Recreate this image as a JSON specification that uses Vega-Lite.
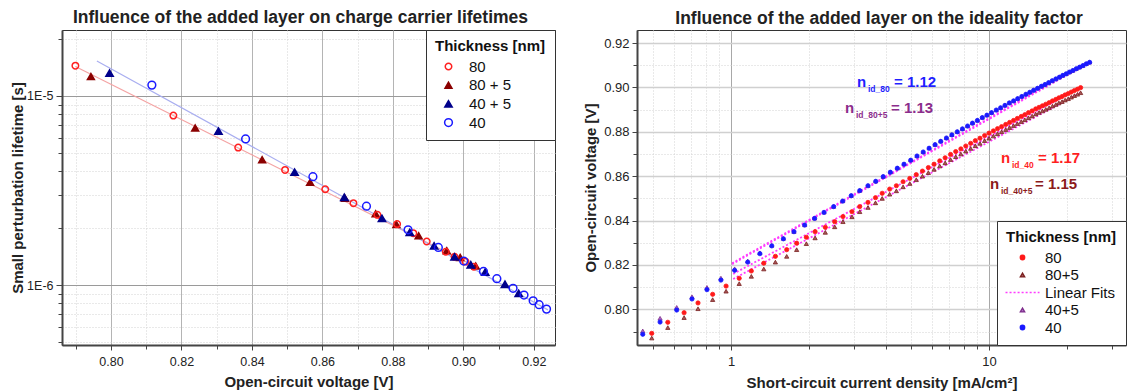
{
  "$schema": "https://vega.github.io/schema/vega-lite/v6.json",
  "background": "white",
  "padding": {"left": 10, "top": 8, "right": 0, "bottom": 0},
  "spacing": 82,
  "bounds": "flush",
  "resolve": {"scale": {"color": "independent", "fill": "independent", "stroke": "independent", "shape": "independent", "size": "independent"}},
  "config": {
    "font": "Liberation Sans",
    "view": {"stroke": "#333", "strokeWidth": 1},
    "axis": {"labelFont": "Liberation Sans", "labelFontSize": 12.5, "labelColor": "#222", "titleFont": "Liberation Sans", "titleFontSize": 15, "titleFontWeight": "bold", "titleColor": "#222", "domainColor": "#444", "domainWidth": 2, "tickColor": "#444", "tickSize": 5, "labelPadding": 5, "titlePadding": 7},
    "legend": {"titleFont": "Liberation Sans", "labelFont": "Liberation Sans", "titleFontSize": 15, "titleFontWeight": "bold", "labelFontSize": 15, "titleColor": "#111", "labelColor": "#111"},
    "title": {"font": "Liberation Sans", "fontSize": 17.5, "fontWeight": "bold", "color": "#222"}
  },
  "datasets": {
    "ptsL": [
      {"s": "80 + 5", "V": 0.7943, "tau": 1.265e-5}, {"s": "80 + 5", "V": 0.8239, "tau": 6.77e-6}, {"s": "80 + 5", "V": 0.8429, "tau": 4.60e-6}, {"s": "80 + 5", "V": 0.8565, "tau": 3.49e-6}, {"s": "80 + 5", "V": 0.8664, "tau": 2.88e-6}, {"s": "80 + 5", "V": 0.8751, "tau": 2.38e-6}, {"s": "80 + 5", "V": 0.8810, "tau": 2.09e-6}, {"s": "80 + 5", "V": 0.8873, "tau": 1.82e-6}, {"s": "80 + 5", "V": 0.8953, "tau": 1.52e-6}, {"s": "80 + 5", "V": 0.8991, "tau": 1.40e-6}, {"s": "80 + 5", "V": 0.9035, "tau": 1.26e-6},
      {"s": "80", "V": 0.7899, "tau": 1.445e-5}, {"s": "80", "V": 0.8177, "tau": 7.87e-6}, {"s": "80", "V": 0.8361, "tau": 5.33e-6}, {"s": "80", "V": 0.8494, "tau": 4.06e-6}, {"s": "80", "V": 0.8608, "tau": 3.21e-6}, {"s": "80", "V": 0.8688, "tau": 2.71e-6}, {"s": "80", "V": 0.8756, "tau": 2.35e-6}, {"s": "80", "V": 0.8812, "tau": 2.10e-6}, {"s": "80", "V": 0.8858, "tau": 1.88e-6}, {"s": "80", "V": 0.8896, "tau": 1.70e-6}, {"s": "80", "V": 0.8950, "tau": 1.50e-6}, {"s": "80", "V": 0.8975, "tau": 1.41e-6}, {"s": "80", "V": 0.9006, "tau": 1.33e-6}, {"s": "80", "V": 0.9030, "tau": 1.25e-6},
      {"s": "40 + 5", "V": 0.7996, "tau": 1.32e-5}, {"s": "40 + 5", "V": 0.8305, "tau": 6.51e-6}, {"s": "40 + 5", "V": 0.8521, "tau": 3.95e-6}, {"s": "40 + 5", "V": 0.8662, "tau": 2.91e-6}, {"s": "40 + 5", "V": 0.8769, "tau": 2.25e-6}, {"s": "40 + 5", "V": 0.8848, "tau": 1.90e-6}, {"s": "40 + 5", "V": 0.8917, "tau": 1.61e-6}, {"s": "40 + 5", "V": 0.8975, "tau": 1.41e-6}, {"s": "40 + 5", "V": 0.9021, "tau": 1.28e-6}, {"s": "40 + 5", "V": 0.9062, "tau": 1.17e-6}, {"s": "40 + 5", "V": 0.9118, "tau": 1.01e-6}, {"s": "40 + 5", "V": 0.9157, "tau": 9.04e-7},
      {"s": "40", "V": 0.8116, "tau": 1.14e-5}, {"s": "40", "V": 0.8382, "tau": 5.92e-6}, {"s": "40", "V": 0.8573, "tau": 3.74e-6}, {"s": "40", "V": 0.8725, "tau": 2.61e-6}, {"s": "40", "V": 0.8843, "tau": 1.96e-6}, {"s": "40", "V": 0.8929, "tau": 1.58e-6}, {"s": "40", "V": 0.9001, "tau": 1.34e-6}, {"s": "40", "V": 0.9057, "tau": 1.18e-6}, {"s": "40", "V": 0.9095, "tau": 1.08e-6}, {"s": "40", "V": 0.9141, "tau": 9.61e-7}, {"s": "40", "V": 0.9172, "tau": 8.85e-7}, {"s": "40", "V": 0.9198, "tau": 8.26e-7}, {"s": "40", "V": 0.9215, "tau": 7.87e-7}, {"s": "40", "V": 0.9236, "tau": 7.46e-7}
    ],
    "fitL": [
      {"f": "80", "V": 0.7899, "tau": 1.43e-5}, {"f": "80", "V": 0.905, "tau": 1.21e-6},
      {"f": "40", "V": 0.796, "tau": 1.53e-5}, {"f": "40", "V": 0.924, "tau": 7.39e-7}
    ],
    "ptsR": [
      {"s": "80", "J": 0.493, "V": 0.7892}, {"s": "80", "J": 0.569, "V": 0.7942}, {"s": "80", "J": 0.658, "V": 0.7985}, {"s": "80", "J": 0.745, "V": 0.8029}, {"s": "80", "J": 0.849, "V": 0.8068}, {"s": "80", "J": 0.957, "V": 0.8105}, {"s": "80", "J": 1.076, "V": 0.8140}, {"s": "80", "J": 1.199, "V": 0.8173}, {"s": "80", "J": 1.340, "V": 0.8208}, {"s": "80", "J": 1.486, "V": 0.8239}, {"s": "80", "J": 1.644, "V": 0.8269}, {"s": "80", "J": 1.797, "V": 0.8298}, {"s": "80", "J": 1.959, "V": 0.8325}, {"s": "80", "J": 2.118, "V": 0.8350}, {"s": "80", "J": 2.320, "V": 0.8370}, {"s": "80", "J": 2.523, "V": 0.8395}, {"s": "80", "J": 2.716, "V": 0.8418}, {"s": "80", "J": 2.944, "V": 0.8440}, {"s": "80", "J": 3.155, "V": 0.8463}, {"s": "80", "J": 3.396, "V": 0.8482}, {"s": "80", "J": 3.631, "V": 0.8503}, {"s": "80", "J": 3.855, "V": 0.8523}, {"s": "80", "J": 4.121, "V": 0.8542}, {"s": "80", "J": 4.375, "V": 0.8557}, {"s": "80", "J": 4.645, "V": 0.8575}, {"s": "80", "J": 4.932, "V": 0.8590}, {"s": "80", "J": 5.224, "V": 0.8607}, {"s": "80", "J": 5.521, "V": 0.8623}, {"s": "80", "J": 5.821, "V": 0.8639}, {"s": "80", "J": 6.124, "V": 0.8654}, {"s": "80", "J": 6.442, "V": 0.8669}, {"s": "80", "J": 6.761, "V": 0.8683}, {"s": "80", "J": 7.096, "V": 0.8698}, {"s": "80", "J": 7.430, "V": 0.8711}, {"s": "80", "J": 7.780, "V": 0.8723}, {"s": "80", "J": 8.128, "V": 0.8736}, {"s": "80", "J": 8.492, "V": 0.8748}, {"s": "80", "J": 8.851, "V": 0.8760}, {"s": "80", "J": 9.226, "V": 0.8771}, {"s": "80", "J": 9.616, "V": 0.8783}, {"s": "80", "J": 10.00, "V": 0.8794}, {"s": "80", "J": 10.40, "V": 0.8804}, {"s": "80", "J": 10.79, "V": 0.8814}, {"s": "80", "J": 11.19, "V": 0.8823}, {"s": "80", "J": 11.61, "V": 0.8833}, {"s": "80", "J": 12.02, "V": 0.8842}, {"s": "80", "J": 12.45, "V": 0.8851}, {"s": "80", "J": 12.88, "V": 0.8860}, {"s": "80", "J": 13.34, "V": 0.8869}, {"s": "80", "J": 13.77, "V": 0.8877}, {"s": "80", "J": 14.22, "V": 0.8886}, {"s": "80", "J": 14.69, "V": 0.8894}, {"s": "80", "J": 15.17, "V": 0.8903}, {"s": "80", "J": 15.63, "V": 0.8910}, {"s": "80", "J": 16.11, "V": 0.8917}, {"s": "80", "J": 16.60, "V": 0.8924}, {"s": "80", "J": 17.10, "V": 0.8931}, {"s": "80", "J": 17.62, "V": 0.8939}, {"s": "80", "J": 18.16, "V": 0.8946}, {"s": "80", "J": 18.66, "V": 0.8953}, {"s": "80", "J": 19.19, "V": 0.8959}, {"s": "80", "J": 19.72, "V": 0.8966}, {"s": "80", "J": 20.28, "V": 0.8972}, {"s": "80", "J": 20.84, "V": 0.8979}, {"s": "80", "J": 21.43, "V": 0.8986}, {"s": "80", "J": 22.03, "V": 0.8992}, {"s": "80", "J": 22.65, "V": 0.8999},
      {"s": "80+5", "J": 0.493, "V": 0.7871}, {"s": "80+5", "J": 0.569, "V": 0.7918}, {"s": "80+5", "J": 0.658, "V": 0.7963}, {"s": "80+5", "J": 0.745, "V": 0.8003}, {"s": "80+5", "J": 0.849, "V": 0.8044}, {"s": "80+5", "J": 0.957, "V": 0.8082}, {"s": "80+5", "J": 1.076, "V": 0.8116}, {"s": "80+5", "J": 1.199, "V": 0.8149}, {"s": "80+5", "J": 1.340, "V": 0.8182}, {"s": "80+5", "J": 1.486, "V": 0.8213}, {"s": "80+5", "J": 1.644, "V": 0.8239}, {"s": "80+5", "J": 1.797, "V": 0.8269}, {"s": "80+5", "J": 1.959, "V": 0.8296}, {"s": "80+5", "J": 2.118, "V": 0.8322}, {"s": "80+5", "J": 2.320, "V": 0.8347}, {"s": "80+5", "J": 2.523, "V": 0.8372}, {"s": "80+5", "J": 2.716, "V": 0.8395}, {"s": "80+5", "J": 2.944, "V": 0.8417}, {"s": "80+5", "J": 3.155, "V": 0.8440}, {"s": "80+5", "J": 3.396, "V": 0.8459}, {"s": "80+5", "J": 3.631, "V": 0.8480}, {"s": "80+5", "J": 3.855, "V": 0.8500}, {"s": "80+5", "J": 4.121, "V": 0.8519}, {"s": "80+5", "J": 4.375, "V": 0.8534}, {"s": "80+5", "J": 4.645, "V": 0.8552}, {"s": "80+5", "J": 4.932, "V": 0.8567}, {"s": "80+5", "J": 5.224, "V": 0.8584}, {"s": "80+5", "J": 5.521, "V": 0.8600}, {"s": "80+5", "J": 5.821, "V": 0.8616}, {"s": "80+5", "J": 6.124, "V": 0.8631}, {"s": "80+5", "J": 6.442, "V": 0.8646}, {"s": "80+5", "J": 6.761, "V": 0.8660}, {"s": "80+5", "J": 7.096, "V": 0.8675}, {"s": "80+5", "J": 7.430, "V": 0.8688}, {"s": "80+5", "J": 7.780, "V": 0.8700}, {"s": "80+5", "J": 8.128, "V": 0.8713}, {"s": "80+5", "J": 8.492, "V": 0.8725}, {"s": "80+5", "J": 8.851, "V": 0.8737}, {"s": "80+5", "J": 9.226, "V": 0.8748}, {"s": "80+5", "J": 9.616, "V": 0.8760}, {"s": "80+5", "J": 10.00, "V": 0.8771}, {"s": "80+5", "J": 10.40, "V": 0.8781}, {"s": "80+5", "J": 10.79, "V": 0.8791}, {"s": "80+5", "J": 11.19, "V": 0.8800}, {"s": "80+5", "J": 11.61, "V": 0.8810}, {"s": "80+5", "J": 12.02, "V": 0.8819}, {"s": "80+5", "J": 12.45, "V": 0.8828}, {"s": "80+5", "J": 12.88, "V": 0.8837}, {"s": "80+5", "J": 13.34, "V": 0.8846}, {"s": "80+5", "J": 13.77, "V": 0.8854}, {"s": "80+5", "J": 14.22, "V": 0.8863}, {"s": "80+5", "J": 14.69, "V": 0.8871}, {"s": "80+5", "J": 15.17, "V": 0.8880}, {"s": "80+5", "J": 15.63, "V": 0.8887}, {"s": "80+5", "J": 16.11, "V": 0.8894}, {"s": "80+5", "J": 16.60, "V": 0.8901}, {"s": "80+5", "J": 17.10, "V": 0.8908}, {"s": "80+5", "J": 17.62, "V": 0.8916}, {"s": "80+5", "J": 18.16, "V": 0.8923}, {"s": "80+5", "J": 18.66, "V": 0.8930}, {"s": "80+5", "J": 19.19, "V": 0.8936}, {"s": "80+5", "J": 19.72, "V": 0.8943}, {"s": "80+5", "J": 20.28, "V": 0.8949}, {"s": "80+5", "J": 20.84, "V": 0.8956}, {"s": "80+5", "J": 21.43, "V": 0.8963}, {"s": "80+5", "J": 22.03, "V": 0.8969}, {"s": "80+5", "J": 22.65, "V": 0.8976},
      {"s": "40+5", "J": 0.455, "V": 0.7903}, {"s": "40+5", "J": 0.531, "V": 0.7960}, {"s": "40+5", "J": 0.616, "V": 0.8009}, {"s": "40+5", "J": 0.706, "V": 0.8057}, {"s": "40+5", "J": 0.807, "V": 0.8099}, {"s": "40+5", "J": 0.914, "V": 0.8141}, {"s": "40+5", "J": 1.033, "V": 0.8183}, {"s": "40+5", "J": 1.161, "V": 0.8218}, {"s": "40+5", "J": 1.294, "V": 0.8255}, {"s": "40+5", "J": 1.439, "V": 0.8289}, {"s": "40+5", "J": 1.596, "V": 0.8320}, {"s": "40+5", "J": 1.754, "V": 0.8351}, {"s": "40+5", "J": 1.930, "V": 0.8381}, {"s": "40+5", "J": 2.109, "V": 0.8411}, {"s": "40+5", "J": 2.294, "V": 0.8438}, {"s": "40+5", "J": 2.500, "V": 0.8464}, {"s": "40+5", "J": 2.710, "V": 0.8489}, {"s": "40+5", "J": 2.924, "V": 0.8513}, {"s": "40+5", "J": 3.155, "V": 0.8536}, {"s": "40+5", "J": 3.396, "V": 0.8558}, {"s": "40+5", "J": 3.639, "V": 0.8578}, {"s": "40+5", "J": 3.890, "V": 0.8599}, {"s": "40+5", "J": 4.146, "V": 0.8619}, {"s": "40+5", "J": 4.412, "V": 0.8637}, {"s": "40+5", "J": 4.684, "V": 0.8655}, {"s": "40+5", "J": 4.972, "V": 0.8673}, {"s": "40+5", "J": 5.260, "V": 0.8692}, {"s": "40+5", "J": 5.559, "V": 0.8710}, {"s": "40+5", "J": 5.861, "V": 0.8727}, {"s": "40+5", "J": 6.180, "V": 0.8743}, {"s": "40+5", "J": 6.501, "V": 0.8758}, {"s": "40+5", "J": 6.839, "V": 0.8773}, {"s": "40+5", "J": 7.178, "V": 0.8787}, {"s": "40+5", "J": 7.534, "V": 0.8801}, {"s": "40+5", "J": 7.889, "V": 0.8814}, {"s": "40+5", "J": 8.260, "V": 0.8827}, {"s": "40+5", "J": 8.630, "V": 0.8840}, {"s": "40+5", "J": 9.016, "V": 0.8852}, {"s": "40+5", "J": 9.419, "V": 0.8865}, {"s": "40+5", "J": 9.817, "V": 0.8876}, {"s": "40+5", "J": 10.23, "V": 0.8887}, {"s": "40+5", "J": 10.67, "V": 0.8899}, {"s": "40+5", "J": 11.09, "V": 0.8909}, {"s": "40+5", "J": 11.53, "V": 0.8920}, {"s": "40+5", "J": 11.99, "V": 0.8931}, {"s": "40+5", "J": 12.45, "V": 0.8940}, {"s": "40+5", "J": 12.91, "V": 0.8950}, {"s": "40+5", "J": 13.40, "V": 0.8960}, {"s": "40+5", "J": 13.90, "V": 0.8970}, {"s": "40+5", "J": 14.39, "V": 0.8979}, {"s": "40+5", "J": 14.89, "V": 0.8988}, {"s": "40+5", "J": 15.42, "V": 0.8997}, {"s": "40+5", "J": 15.96, "V": 0.9006}, {"s": "40+5", "J": 16.48, "V": 0.9014}, {"s": "40+5", "J": 17.02, "V": 0.9022}, {"s": "40+5", "J": 17.58, "V": 0.9031}, {"s": "40+5", "J": 18.16, "V": 0.9039}, {"s": "40+5", "J": 18.75, "V": 0.9047}, {"s": "40+5", "J": 19.32, "V": 0.9055}, {"s": "40+5", "J": 19.91, "V": 0.9062}, {"s": "40+5", "J": 20.51, "V": 0.9070}, {"s": "40+5", "J": 21.13, "V": 0.9077}, {"s": "40+5", "J": 21.78, "V": 0.9085}, {"s": "40+5", "J": 22.44, "V": 0.9092}, {"s": "40+5", "J": 23.12, "V": 0.9099}, {"s": "40+5", "J": 23.82, "V": 0.9107}, {"s": "40+5", "J": 24.55, "V": 0.9114},
      {"s": "40", "J": 0.455, "V": 0.7888}, {"s": "40", "J": 0.531, "V": 0.7943}, {"s": "40", "J": 0.616, "V": 0.7997}, {"s": "40", "J": 0.706, "V": 0.8047}, {"s": "40", "J": 0.807, "V": 0.8089}, {"s": "40", "J": 0.914, "V": 0.8132}, {"s": "40", "J": 1.033, "V": 0.8176}, {"s": "40", "J": 1.161, "V": 0.8213}, {"s": "40", "J": 1.294, "V": 0.8251}, {"s": "40", "J": 1.439, "V": 0.8286}, {"s": "40", "J": 1.596, "V": 0.8318}, {"s": "40", "J": 1.754, "V": 0.8350}, {"s": "40", "J": 1.930, "V": 0.8380}, {"s": "40", "J": 2.109, "V": 0.8410}, {"s": "40", "J": 2.294, "V": 0.8437}, {"s": "40", "J": 2.500, "V": 0.8463}, {"s": "40", "J": 2.710, "V": 0.8488}, {"s": "40", "J": 2.924, "V": 0.8512}, {"s": "40", "J": 3.155, "V": 0.8535}, {"s": "40", "J": 3.396, "V": 0.8557}, {"s": "40", "J": 3.639, "V": 0.8577}, {"s": "40", "J": 3.890, "V": 0.8598}, {"s": "40", "J": 4.146, "V": 0.8618}, {"s": "40", "J": 4.412, "V": 0.8636}, {"s": "40", "J": 4.684, "V": 0.8654}, {"s": "40", "J": 4.972, "V": 0.8672}, {"s": "40", "J": 5.260, "V": 0.8691}, {"s": "40", "J": 5.559, "V": 0.8709}, {"s": "40", "J": 5.861, "V": 0.8726}, {"s": "40", "J": 6.180, "V": 0.8742}, {"s": "40", "J": 6.501, "V": 0.8757}, {"s": "40", "J": 6.839, "V": 0.8772}, {"s": "40", "J": 7.178, "V": 0.8786}, {"s": "40", "J": 7.534, "V": 0.8800}, {"s": "40", "J": 7.889, "V": 0.8813}, {"s": "40", "J": 8.260, "V": 0.8826}, {"s": "40", "J": 8.630, "V": 0.8839}, {"s": "40", "J": 9.016, "V": 0.8851}, {"s": "40", "J": 9.419, "V": 0.8864}, {"s": "40", "J": 9.817, "V": 0.8875}, {"s": "40", "J": 10.23, "V": 0.8886}, {"s": "40", "J": 10.67, "V": 0.8898}, {"s": "40", "J": 11.09, "V": 0.8908}, {"s": "40", "J": 11.53, "V": 0.8919}, {"s": "40", "J": 11.99, "V": 0.8930}, {"s": "40", "J": 12.45, "V": 0.8939}, {"s": "40", "J": 12.91, "V": 0.8949}, {"s": "40", "J": 13.40, "V": 0.8959}, {"s": "40", "J": 13.90, "V": 0.8969}, {"s": "40", "J": 14.39, "V": 0.8978}, {"s": "40", "J": 14.89, "V": 0.8987}, {"s": "40", "J": 15.42, "V": 0.8996}, {"s": "40", "J": 15.96, "V": 0.9005}, {"s": "40", "J": 16.48, "V": 0.9013}, {"s": "40", "J": 17.02, "V": 0.9021}, {"s": "40", "J": 17.58, "V": 0.9030}, {"s": "40", "J": 18.16, "V": 0.9038}, {"s": "40", "J": 18.75, "V": 0.9046}, {"s": "40", "J": 19.32, "V": 0.9054}, {"s": "40", "J": 19.91, "V": 0.9061}, {"s": "40", "J": 20.51, "V": 0.9069}, {"s": "40", "J": 21.13, "V": 0.9076}, {"s": "40", "J": 21.78, "V": 0.9084}, {"s": "40", "J": 22.44, "V": 0.9091}, {"s": "40", "J": 23.12, "V": 0.9098}, {"s": "40", "J": 23.82, "V": 0.9106}, {"s": "40", "J": 24.55, "V": 0.9113}
    ],
    "fitR": [
      {"f": "80", "J": 1.02, "V": 0.8160}, {"f": "80", "J": 22.65, "V": 0.9000},
      {"f": "80+5", "J": 1.02, "V": 0.8137}, {"f": "80+5", "J": 22.65, "V": 0.8976},
      {"f": "40+5", "J": 1.01, "V": 0.8208}, {"f": "40+5", "J": 24.55, "V": 0.9117},
      {"f": "40", "J": 1.01, "V": 0.8204}, {"f": "40", "J": 24.55, "V": 0.9113}
    ],
    "ann": [
      {"g": "80", "n": "n", "sub": "id_80", "eq": "= 1.12", "Jn": 3.078, "Jeq": 4.283, "V": 0.9002},
      {"g": "80+5", "n": "n", "sub": "id_80+5", "eq": "= 1.13", "Jn": 2.766, "Jeq": 4.171, "V": 0.8885},
      {"g": "40", "n": "n", "sub": "id_40", "eq": "= 1.17", "Jn": 11.13, "Jeq": 15.49, "V": 0.8660},
      {"g": "40+5", "n": "n", "sub": "id_40+5", "eq": "= 1.15", "Jn": 10.09, "Jeq": 15.08, "V": 0.8542}
    ]
  },
  "hconcat": [
    {
      "width": 493,
      "height": 315,
      "title": {"text": "Influence of the added layer on charge carrier lifetimes", "anchor": "middle", "offset": 3, "dx": -8},
      "resolve": {"axis": {"x": "independent", "y": "independent"}},
      "layer": [
        {
          "data": {"name": "fitL"},
          "mark": {"type": "line", "strokeWidth": 1.2},
          "encoding": {
            "x": {"field": "V", "type": "quantitative", "scale": {"domain": [0.7861, 0.926], "nice": false, "zero": false},
                  "axis": {"orient": "bottom", "values": [0.79, 0.81, 0.83, 0.85, 0.87, 0.89, 0.91], "labels": false, "domain": false, "title": null, "grid": true, "gridDash": [1, 2], "gridColor": "#d2d2d2", "tickSize": 4}},
            "y": {"field": "tau", "type": "quantitative", "scale": {"type": "log", "domain": [4.82e-7, 2.23e-5], "nice": false},
                  "axis": {"orient": "left", "values": [5e-7, 6e-7, 7e-7, 8e-7, 9e-7, 2e-6, 3e-6, 4e-6, 5e-6, 6e-6, 7e-6, 8e-6, 9e-6, 2e-5], "labels": false, "domain": false, "title": null, "grid": true, "gridDash": [1, 2], "gridColor": "#d2d2d2", "tickSize": 4}},
            "color": {"field": "f", "type": "nominal", "scale": {"domain": ["80", "40"], "range": ["#f4a3a3", "#a9aef0"]}, "legend": null}
          }
        },
        {
          "data": {"name": "ptsL"},
          "mark": {"type": "point", "filled": true, "strokeWidth": 1.5, "opacity": 1},
          "encoding": {
            "x": {"field": "V", "type": "quantitative", "scale": {"domain": [0.7861, 0.926], "nice": false, "zero": false},
                  "axis": {"orient": "bottom", "values": [0.8, 0.82, 0.84, 0.86, 0.88, 0.9, 0.92], "format": ".2f", "title": "Open-circuit voltage [V]", "grid": true, "gridColor": "#b4b4b4"}},
            "y": {"field": "tau", "type": "quantitative", "scale": {"type": "log", "domain": [4.82e-7, 2.23e-5], "nice": false},
                  "axis": {"orient": "left", "values": [1e-6, 1e-5], "labelExpr": "'1E' + round(log(datum.value) / LN10)", "labelPadding": 3, "titlePadding": 1, "title": "Small perturbation lifetime [s]", "grid": true, "gridColor": "#9a9a9a", "tickSize": 6}},
            "stroke": {"field": "s", "type": "nominal", "title": "Thickness [nm]",
                       "scale": {"domain": ["80", "80 + 5", "40 + 5", "40"], "range": ["#ff2020", "#8b0000", "#00008b", "#1a1aff"]},
                       "legend": {"orient": "top-right", "offset": 0, "padding": 9, "strokeColor": "#333", "fillColor": "white", "rowPadding": 2.7, "titlePadding": 5, "symbolOffset": 6, "labelOffset": 13}},
            "fill": {"field": "s", "type": "nominal", "title": "Thickness [nm]",
                     "scale": {"domain": ["80", "80 + 5", "40 + 5", "40"], "range": ["transparent", "#8b0000", "#00008b", "transparent"]},
                     "legend": {"orient": "top-right", "offset": 0, "padding": 9, "strokeColor": "#333", "fillColor": "white", "rowPadding": 2.7, "titlePadding": 5, "symbolOffset": 6, "labelOffset": 13}},
            "shape": {"field": "s", "type": "nominal", "title": "Thickness [nm]",
                      "scale": {"domain": ["80", "80 + 5", "40 + 5", "40"], "range": ["circle", "triangle-up", "triangle-up", "circle"]},
                      "legend": {"orient": "top-right", "offset": 0, "padding": 9, "strokeColor": "#333", "fillColor": "white", "rowPadding": 2.7, "titlePadding": 5, "symbolOffset": 6, "labelOffset": 13}},
            "size": {"field": "s", "type": "nominal", "title": "Thickness [nm]",
                     "scale": {"domain": ["80", "80 + 5", "40 + 5", "40"], "range": [42, 60, 60, 42]},
                     "legend": {"orient": "top-right", "offset": 0, "padding": 9, "strokeColor": "#333", "fillColor": "white", "rowPadding": 2.7, "titlePadding": 5, "symbolOffset": 6, "labelOffset": 13}}
          }
        }
      ]
    },
    {
      "width": 489,
      "height": 315,
      "title": {"text": "Influence of the added layer on the ideality factor", "anchor": "middle", "offset": 3, "dx": -2.5},
      "resolve": {"axis": {"x": "independent", "y": "independent"}},
      "layer": [
        {
          "data": {"name": "fitR"},
          "mark": {"type": "line", "color": "#ff3cff", "strokeDash": [2, 2], "strokeWidth": 1.8},
          "encoding": {
            "x": {"field": "J", "type": "quantitative", "scale": {"type": "log", "domain": [0.4322, 33.96], "nice": false},
                  "axis": {"orient": "bottom", "values": [0.5, 0.6, 0.7, 0.8, 0.9, 2, 3, 4, 5, 6, 7, 8, 9, 20, 30], "labels": false, "domain": false, "title": null, "grid": true, "gridDash": [1, 2], "gridColor": "#d2d2d2", "tickSize": 4}},
            "y": {"field": "V", "type": "quantitative", "scale": {"domain": [0.78396, 0.92586], "nice": false, "zero": false},
                  "axis": {"orient": "left", "values": [0.79, 0.81, 0.83, 0.85, 0.87, 0.89, 0.91], "labels": false, "domain": false, "title": null, "grid": true, "gridDash": [1, 2], "gridColor": "#d2d2d2", "tickSize": 4}},
            "detail": {"field": "f", "type": "nominal"}
          }
        },
        {
          "data": {"name": "ptsR"},
          "mark": {"type": "point", "filled": true, "size": 18, "strokeWidth": 0.8, "opacity": 1},
          "encoding": {
            "x": {"field": "J", "type": "quantitative", "scale": {"type": "log", "domain": [0.4322, 33.96], "nice": false},
                  "axis": {"orient": "bottom", "values": [1, 10], "format": "d", "labelFontSize": 13, "title": "Short-circuit current density [mA/cm²]", "grid": true, "gridColor": "#a8a8a8"}},
            "y": {"field": "V", "type": "quantitative", "scale": {"domain": [0.78396, 0.92586], "nice": false, "zero": false},
                  "axis": {"orient": "left", "values": [0.8, 0.82, 0.84, 0.86, 0.88, 0.9, 0.92], "format": ".2f", "labelFontSize": 13, "labelPadding": 3, "titlePadding": 5, "title": "Open-circuit voltage [V]", "grid": true, "gridColor": "#d0d0d0", "gridWidth": 1.6}},
            "color": {"field": "s", "type": "nominal", "title": "Thickness [nm]",
                      "scale": {"domain": ["80", "80+5", "Linear Fits", "40+5", "40"], "range": ["#ff1a1a", "#a85858", "#ff3cff", "#b070c8", "#1a1aff"]},
                      "legend": {"orient": "bottom-right", "offset": 0, "padding": 9, "strokeColor": "#333", "fillColor": "white", "rowPadding": 1.5, "titlePadding": 5, "symbolSize": 20, "symbolStrokeWidth": 1.3, "symbolOffset": 9, "labelOffset": 15}},
            "stroke": {"field": "s", "type": "nominal", "title": "Thickness [nm]",
                       "scale": {"domain": ["80", "80+5", "Linear Fits", "40+5", "40"], "range": ["#ff1a1a", "#7a1f1f", "#ff3cff", "#7d2d8a", "#1a1aff"]},
                       "legend": {"orient": "bottom-right", "offset": 0, "padding": 9, "strokeColor": "#333", "fillColor": "white", "rowPadding": 1.5, "titlePadding": 5, "symbolSize": 20, "symbolStrokeWidth": 1.3, "symbolOffset": 9, "labelOffset": 15}},
            "shape": {"field": "s", "type": "nominal", "title": "Thickness [nm]",
                      "scale": {"domain": ["80", "80+5", "Linear Fits", "40+5", "40"], "range": ["circle", "triangle-up", "M-7.6,0H-6.7M-5.8,0H-4.9M-4,0H-3.1M-2.2,0H-1.3M-0.4,0H0.5M1.4,0H2.3M3.2,0H4.1M5,0H5.9M6.8,0H7.6", "triangle-up", "circle"]},
                      "legend": {"orient": "bottom-right", "offset": 0, "padding": 9, "strokeColor": "#333", "fillColor": "white", "rowPadding": 1.5, "titlePadding": 5, "symbolSize": 20, "symbolStrokeWidth": 1.3, "symbolOffset": 9, "labelOffset": 15}}
          }
        },
        {
          "data": {"name": "ann"},
          "mark": {"type": "text", "align": "left", "baseline": "alphabetic", "fontSize": 15, "fontWeight": "bold"},
          "encoding": {
            "x": {"field": "Jn", "type": "quantitative", "scale": {"type": "log", "domain": [0.4322, 33.96], "nice": false}, "axis": null},
            "y": {"field": "V", "type": "quantitative", "scale": {"domain": [0.78396, 0.92586], "nice": false, "zero": false}, "axis": null},
            "text": {"field": "n"},
            "fill": {"field": "g", "type": "nominal", "scale": {"domain": ["80", "80+5", "40", "40+5"], "range": ["#1f1fff", "#8c2d8c", "#ff1f1f", "#8b1a1a"]}, "legend": null}
          }
        },
        {
          "data": {"name": "ann"},
          "mark": {"type": "text", "align": "left", "baseline": "alphabetic", "fontSize": 8.5, "fontWeight": "bold", "dx": 11, "dy": 5},
          "encoding": {
            "x": {"field": "Jn", "type": "quantitative", "scale": {"type": "log", "domain": [0.4322, 33.96], "nice": false}, "axis": null},
            "y": {"field": "V", "type": "quantitative", "scale": {"domain": [0.78396, 0.92586], "nice": false, "zero": false}, "axis": null},
            "text": {"field": "sub"},
            "fill": {"field": "g", "type": "nominal", "scale": {"domain": ["80", "80+5", "40", "40+5"], "range": ["#1f1fff", "#8c2d8c", "#ff1f1f", "#8b1a1a"]}, "legend": null}
          }
        },
        {
          "data": {"name": "ann"},
          "mark": {"type": "text", "align": "left", "baseline": "alphabetic", "fontSize": 15, "fontWeight": "bold"},
          "encoding": {
            "x": {"field": "Jeq", "type": "quantitative", "scale": {"type": "log", "domain": [0.4322, 33.96], "nice": false}, "axis": null},
            "y": {"field": "V", "type": "quantitative", "scale": {"domain": [0.78396, 0.92586], "nice": false, "zero": false}, "axis": null},
            "text": {"field": "eq"},
            "fill": {"field": "g", "type": "nominal", "scale": {"domain": ["80", "80+5", "40", "40+5"], "range": ["#1f1fff", "#8c2d8c", "#ff1f1f", "#8b1a1a"]}, "legend": null}
          }
        }
      ]
    }
  ]
}
